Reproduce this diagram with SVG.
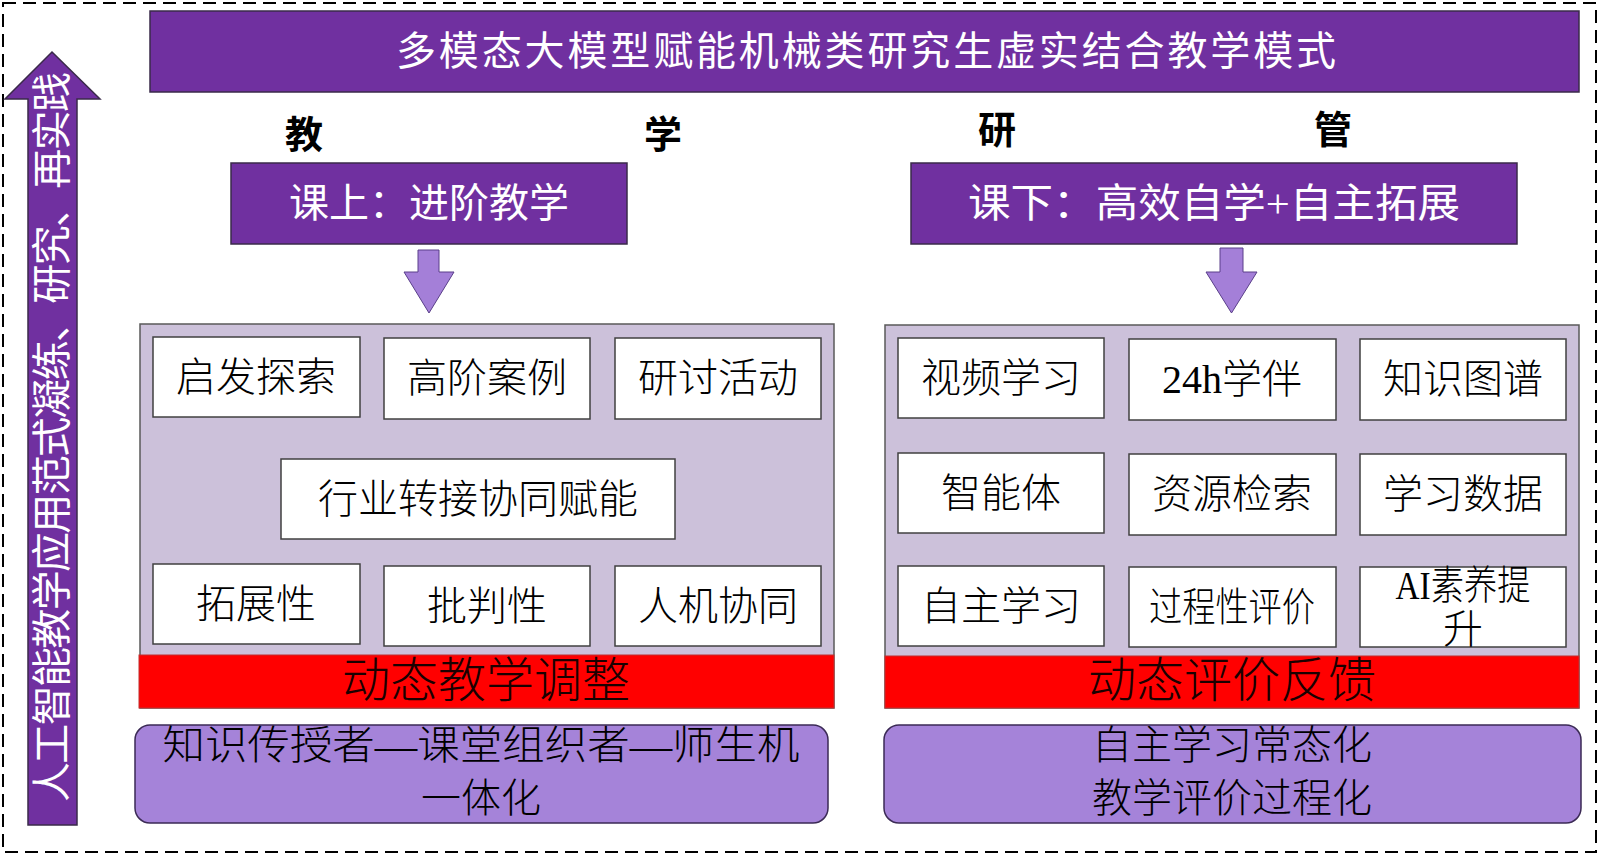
<svg xmlns="http://www.w3.org/2000/svg" width="1600" height="854" viewBox="0 0 1600 854">
<style>
text{font-family:'Liberation Serif','Noto Sans CJK SC',serif;text-anchor:middle;dominant-baseline:central}
.dark{fill:#7030A0;stroke:#3a2a4a;stroke-width:1.5}
.panel{fill:#CCC1DA;stroke:#5a5a5a;stroke-width:1.5}
.white{fill:#FFFFFF;stroke:#404040;stroke-width:1.5}
.red{fill:#FF0000;stroke:#c03030;stroke-width:1}
.soft{fill:#A583D9;stroke:#3b2a55;stroke-width:1.5}
.arr{fill:#A47FD8;stroke:#5a3f8a;stroke-width:1}
.wt{fill:#FFFFFF;font-size:40px}
.bt{fill:#000000;font-size:40px;font-weight:300}
.lbl{fill:#000000;font-size:38px;font-weight:bold}
.rt{fill:#1a0000;font-size:48px;font-weight:300}
</style>
<rect x="3" y="3" width="1593" height="849" fill="none" stroke="#000" stroke-width="2" stroke-dasharray="13 7"/>
<g id="connectors">
<polygon class="dark" points="52,52 100,99 77,99 77,825 28,825 28,99 5,99"/>
<polygon class="arr" points="418,250 439,250 439,272 454,272 429,313 404,272 418,272"/>
<polygon class="arr" points="1220,248 1243,248 1243,272 1257,272 1231.5,313 1206,272 1220,272"/>
</g>
<g id="side-arrow-label">
<text class="wt" font-size="36" transform="translate(52,437) rotate(-90)" textLength="730" lengthAdjust="spacing">人工智能教学应用范式凝练、研究、再实践</text>
</g>
<g id="title">
<rect class="dark" x="150" y="11" width="1429" height="81"/>
<text class="wt" x="866" y="51" font-size="41" textLength="940" lengthAdjust="spacing">多模态大模型赋能机械类研究生虚实结合教学模式</text>
</g>
<g id="labels">
<text class="lbl" x="304" y="135">教</text>
<text class="lbl" x="663" y="135">学</text>
<text class="lbl" x="997" y="130">研</text>
<text class="lbl" x="1333" y="130">管</text>
</g>
<g id="class-box">
<rect class="dark" x="231" y="163" width="396" height="81"/>
<text class="wt" x="429" y="203">课上：进阶教学</text>
</g>
<g id="after-class-box">
<rect class="dark" x="911" y="163" width="606" height="81"/>
<text class="wt" x="1214" y="203" textLength="492" lengthAdjust="spacingAndGlyphs">课下：高效自学+自主拓展</text>
</g>
<g id="left-panel">
<rect class="panel" x="140" y="324" width="694" height="384"/>
<rect class="red" x="139" y="655" width="695" height="53"/>
<text class="rt" x="486" y="680">动态教学调整</text>
</g>
<g id="n-qifa"><rect class="white" x="153" y="337" width="207" height="80"/><text class="bt" x="256" y="377">启发探索</text></g>
<g id="n-gaojie"><rect class="white" x="384" y="338" width="206" height="81"/><text class="bt" x="487" y="378">高阶案例</text></g>
<g id="n-yantao"><rect class="white" x="615" y="338" width="206" height="81"/><text class="bt" x="718" y="378">研讨活动</text></g>
<g id="n-hangye"><rect class="white" x="281" y="459" width="394" height="80"/><text class="bt" x="478" y="499">行业转接协同赋能</text></g>
<g id="n-tuozhan"><rect class="white" x="153" y="564" width="207" height="80"/><text class="bt" x="256" y="604">拓展性</text></g>
<g id="n-pipan"><rect class="white" x="384" y="566" width="206" height="80"/><text class="bt" x="487" y="606">批判性</text></g>
<g id="n-renji"><rect class="white" x="615" y="566" width="206" height="80"/><text class="bt" x="718" y="606">人机协同</text></g>
<g id="right-panel">
<rect class="panel" x="885" y="325" width="694" height="383"/>
<rect class="red" x="885" y="656" width="694" height="52"/>
<text class="rt" x="1232" y="680">动态评价反馈</text>
</g>
<g id="n-shipin"><rect class="white" x="898" y="338" width="206" height="80"/><text class="bt" x="1001" y="378">视频学习</text></g>
<g id="n-24h"><rect class="white" x="1129" y="339" width="207" height="81"/><text class="bt" x="1232" y="379">24h学伴</text></g>
<g id="n-zhishi"><rect class="white" x="1360" y="339" width="206" height="81"/><text class="bt" x="1463" y="379">知识图谱</text></g>
<g id="n-zhineng"><rect class="white" x="898" y="453" width="206" height="80"/><text class="bt" x="1001" y="493">智能体</text></g>
<g id="n-ziyuan"><rect class="white" x="1129" y="454" width="207" height="81"/><text class="bt" x="1232" y="494">资源检索</text></g>
<g id="n-xuexi"><rect class="white" x="1360" y="454" width="206" height="81"/><text class="bt" x="1463" y="494">学习数据</text></g>
<g id="n-zizhu"><rect class="white" x="898" y="566" width="206" height="80"/><text class="bt" x="1001" y="606">自主学习</text></g>
<g id="n-guocheng"><rect class="white" x="1129" y="567" width="207" height="80"/><text class="bt" x="1232" y="607" font-size="31" textLength="166" lengthAdjust="spacingAndGlyphs">过程性评价</text></g>
<g id="n-ai"><rect class="white" x="1360" y="567" width="206" height="80"/><text class="bt" x="1463" y="585" font-size="29" textLength="135" lengthAdjust="spacingAndGlyphs">AI素养提</text><text class="bt" x="1463" y="629" font-size="29">升</text></g>
<g id="left-outcome">
<rect class="soft" x="135" y="725" width="693" height="98" rx="15"/>
<text class="bt" x="481" y="745" textLength="637" lengthAdjust="spacingAndGlyphs">知识传授者—课堂组织者—师生机</text>
<text class="bt" x="481" y="798">一体化</text>
</g>
<g id="right-outcome">
<rect class="soft" x="884" y="725" width="697" height="98" rx="15"/>
<text class="bt" x="1232" y="745">自主学习常态化</text>
<text class="bt" x="1232" y="798">教学评价过程化</text>
</g>
</svg>
